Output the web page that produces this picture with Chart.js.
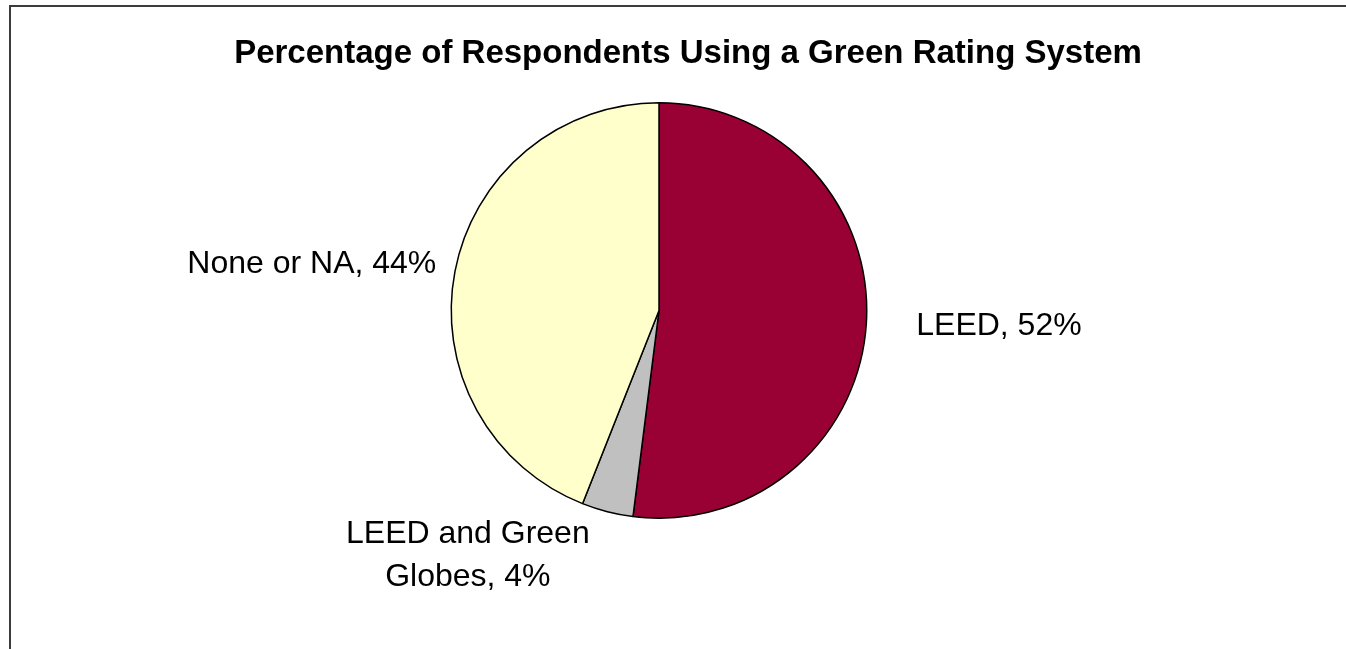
<!DOCTYPE html>
<html>
<head>
<meta charset="utf-8">
<script src="https://cdn.jsdelivr.net/npm/chart.js@4.4.1/dist/chart.umd.min.js"></script>
<style>
  html, body { margin: 0; padding: 0; background: #fff; overflow: hidden; }
  #frame {
    position: absolute; left: 9px; top: 5px;
    border-left: 2px solid #3c3c3c; border-top: 2px solid #3c3c3c;
  }
  canvas { display: block; }
</style>
</head>
<body>
<div id="frame"><canvas id="chart-rating" width="1354" height="642"></canvas></div>
<script>
const titleText = "Percentage of Respondents Using a Green Rating System";
const categories = ["LEED", "LEED and Green Globes", "None or NA"];
const percentValues = [52, 4, 44];
const sliceColors = ["#990033", "#C0C0C0", "#FFFFCC"];

// nudges for each label, from the point just outside its slice
const labelNudge = [
  { gap: 50, dx: 0, dy: -1, align: "left" },
  { gap: 22, dx: -134, dy: 1, align: "center" },
  { gap: 22, dx: 3, dy: -3, align: "right" },
];

const fontFamily = "'Liberation Sans', Arial, sans-serif";
const labelFont = "32px " + fontFamily;
const titleFont = "bold 33px " + fontFamily;

let wrapText = function (ctx, text, maxWidth) {
  let words = text.split(" ");
  let lines = [];
  let line = "";
  words.forEach(function (w) {
    let test = line ? line + " " + w : w;
    if (line && ctx.measureText(test).width > maxWidth) {
      lines.push(line);
      line = w;
    } else {
      line = test;
    }
  });
  lines.push(line);
  return lines;
};

// title is drawn across the full canvas, the pie sits in a padded area
let chartTitle = {
  id: "chartTitle",
  afterDraw: function (chart) {
    let ctx = chart.ctx;
    ctx.save();
    ctx.font = titleFont;
    ctx.fillStyle = "#000";
    ctx.textAlign = "center";
    ctx.textBaseline = "alphabetic";
    ctx.fillText(titleText, chart.width / 2, 56);
    ctx.restore();
  },
};

let sliceLabels = {
  id: "sliceLabels",
  afterDraw: function (chart) {
    let ctx = chart.ctx;
    let arcs = chart.getDatasetMeta(0).data;
    ctx.save();
    ctx.font = labelFont;
    ctx.fillStyle = "#000";
    ctx.textBaseline = "middle";
    arcs.forEach(function (arc, i) {
      let p = arc.getProps(["x", "y", "startAngle", "endAngle", "outerRadius"], true);
      let mid = (p.startAngle + p.endAngle) / 2;
      let n = labelNudge[i];
      let d = p.outerRadius + n.gap;
      let x = p.x + Math.cos(mid) * d + n.dx;
      let y = p.y + Math.sin(mid) * d + n.dy;
      let text = categories[i] + ", " + percentValues[i] + "%";
      let lines = wrapText(ctx, text, 260);
      ctx.textAlign = n.align;
      lines.forEach(function (ln, k) {
        ctx.fillText(ln, x, y + k * 43);
      });
    });
    ctx.restore();
  },
};

let chartDraw = function () {
  let ctx = document.getElementById("chart-rating").getContext("2d");
  new Chart(ctx, {
    type: "pie",
    data: {
      labels: categories,
      datasets: [
        {
          data: percentValues,
          backgroundColor: sliceColors,
          borderColor: "#000",
          borderWidth: 1.5,
        },
      ],
    },
    options: {
      responsive: false,
      animation: false,
      layout: {
        padding: { left: 439.5, right: 497.5, top: 95, bottom: 130 },
      },
      plugins: {
        legend: { display: false },
        tooltip: { enabled: false },
        title: { display: false },
      },
    },
    plugins: [chartTitle, sliceLabels],
  });
};

window.onload = function () {
  chartDraw();
};
</script>
</body>
</html>
